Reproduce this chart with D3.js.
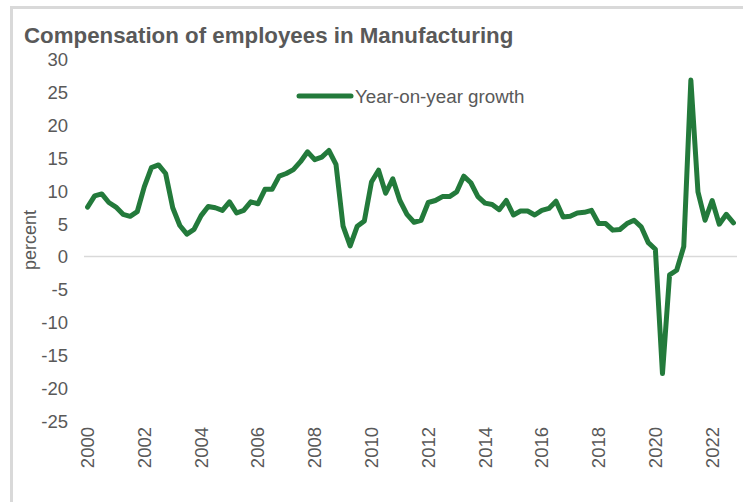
<!DOCTYPE html>
<html>
<head>
<meta charset="utf-8">
<script src="https://cdn.jsdelivr.net/npm/d3@7"></script>
<style>
  html, body { margin: 0; padding: 0; background: #fff; }
  svg { display: block; }
  text { font-family: "Liberation Sans", Arial, sans-serif; fill: #595959; }
</style>
</head>
<body>
<svg id="chart" width="743" height="502"></svg>
<script>
// Quarterly year-on-year growth, 2000 Q1 – 2022 Q4
const years = d3.range(2000, 2023);
const quarters = ["Q1", "Q2", "Q3", "Q4"];
const categories = years.flatMap(y => quarters.map(q => `${y} ${q}`));

const growth = [
  7.5, 9.2, 9.5, 8.2,     // 2000
  7.5, 6.4, 6.1, 6.8,     // 2001
  10.6, 13.5, 13.9, 12.6, // 2002
  7.4, 4.7, 3.4, 4.1,     // 2003
  6.2, 7.6, 7.4, 7.0,     // 2004
  8.3, 6.6, 7.0, 8.3,     // 2005
  8.0, 10.2, 10.2, 12.2,  // 2006
  12.6, 13.2, 14.4, 15.9, // 2007
  14.7, 15.1, 16.1, 14.0, // 2008
  4.6, 1.6, 4.6, 5.4,     // 2009
  11.3, 13.1, 9.6, 11.8,  // 2010
  8.5, 6.4, 5.2, 5.5,     // 2011
  8.2, 8.5, 9.1, 9.1,     // 2012
  9.8, 12.2, 11.2, 9.1,   // 2013
  8.1, 7.9, 7.1, 8.5,     // 2014
  6.3, 6.9, 6.9, 6.3,     // 2015
  7.0, 7.3, 8.4, 6.0,     // 2016
  6.1, 6.6, 6.7, 7.0,     // 2017
  5.0, 5.0, 4.0, 4.1,     // 2018
  5.0, 5.5, 4.5, 2.1,     // 2019
  1.1, -17.8, -2.8, -2.1, // 2020
  1.5, 26.8, 9.8, 5.5,    // 2021
  8.5, 4.9, 6.4, 5.1      // 2022
];

const yTicks = [30, 25, 20, 15, 10, 5, 0, -5, -10, -15, -20, -25];
const xTickLabels = d3.range(2000, 2023, 2).map(String);

const title = "Compensation of employees in Manufacturing";
const seriesName = "Year-on-year growth";
const yAxisTitle = "percent";

const lineColor = "#237a3b";
const plot = { left: 84, right: 737, top: 59, bottom: 421 };

const svg = d3.select("#chart");

// Outer frame
svg.append("rect")
  .attr("x", 11.5).attr("y", 7.5)
  .attr("width", 900).attr("height", 700)
  .attr("fill", "none")
  .attr("stroke", "#d9d9d9")
  .attr("stroke-width", 3);

const x = d3.scaleBand()
  .domain(categories)
  .range([plot.left, plot.right]);

const y = d3.scaleLinear()
  .domain([-25, 30])
  .range([plot.bottom, plot.top]);

// Title
svg.append("text")
  .attr("x", 24).attr("y", 43)
  .style("font-size", "22.3px")
  .style("font-weight", "bold")
  .text(title);

// Y axis (labels only)
const yAxis = d3.axisLeft(y)
  .tickValues(yTicks)
  .tickFormat(d => String(d))
  .tickSize(0).tickPadding(0);
const gy = svg.append("g")
  .attr("transform", `translate(68,0)`)
  .call(yAxis);
gy.select(".domain").remove();
gy.selectAll("text")
  .style("font-size", "18.5px")
  .style("font-family", "'Liberation Sans', Arial, sans-serif")
  .attr("fill", "#595959")
  .attr("dy", "0.35em");

// Y axis title
svg.append("text")
  .attr("transform", `translate(36,240) rotate(-90)`)
  .attr("text-anchor", "middle")
  .style("font-size", "18px")
  .text(yAxisTitle);

// Zero line
svg.append("line")
  .attr("x1", plot.left).attr("x2", plot.right)
  .attr("y1", y(0)).attr("y2", y(0))
  .attr("stroke", "#d9d9d9")
  .attr("stroke-width", 1.5);

// X axis: a label every eighth quarter
const xAxis = d3.axisBottom(x)
  .tickValues(categories.filter((c, i) => i % 8 === 0))
  .tickFormat((c, i) => xTickLabels[i])
  .tickSize(0).tickPadding(0);
const gx = svg.append("g")
  .attr("transform", `translate(0,${plot.bottom})`)
  .call(xAxis);
gx.select(".domain").remove();
gx.selectAll("text")
  .style("font-size", "18.5px")
  .style("font-family", "'Liberation Sans', Arial, sans-serif")
  .attr("fill", "#595959")
  .attr("transform", "rotate(-90)")
  .attr("text-anchor", "end")
  .attr("x", -6)
  .attr("y", 0)
  .attr("dy", "0.35em");

// Series line
const line = d3.line()
  .x((d, i) => x(categories[i]) + x.bandwidth() / 2)
  .y(d => y(d));

svg.append("path")
  .datum(growth)
  .attr("d", line)
  .attr("fill", "none")
  .attr("stroke", lineColor)
  .attr("stroke-width", 5)
  .attr("stroke-linejoin", "round")
  .attr("stroke-linecap", "round");

// Legend
svg.append("line")
  .attr("x1", 299).attr("x2", 351)
  .attr("y1", 96).attr("y2", 96)
  .attr("stroke", lineColor)
  .attr("stroke-width", 5)
  .attr("stroke-linecap", "round");
svg.append("text")
  .attr("x", 355).attr("y", 102.5)
  .style("font-size", "18.8px")
  .text(seriesName);
</script>
</body>
</html>
